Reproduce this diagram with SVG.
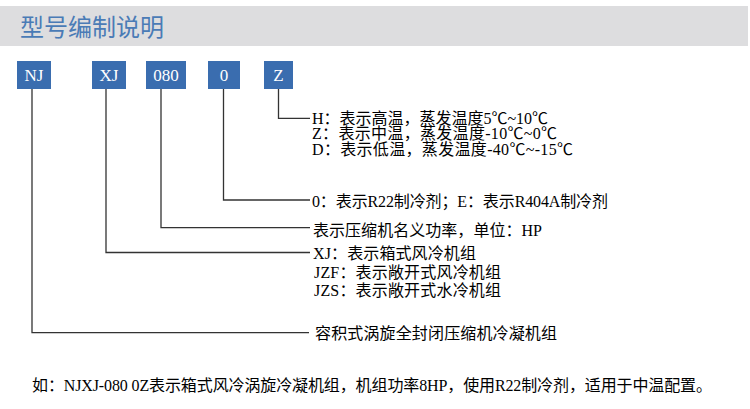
<svg xmlns="http://www.w3.org/2000/svg" width="750" height="409" viewBox="0 0 750 409">
<style>
.title{font-family:"Noto Sans CJK SC","Noto Sans",sans-serif;font-size:24px;fill:#4a7bb6;}
.box{fill:#3a6daf;}
.btxt{font-family:"Liberation Serif",serif;font-size:17px;fill:#ffffff;text-anchor:middle;}
.lbl{font-family:"Liberation Serif","Noto Sans CJK SC",serif;font-size:16px;fill:#000000;}
.conn{fill:none;stroke:#333333;stroke-width:1.3;}
</style>
<rect x="0" y="6" width="748" height="40" fill="#dddddf"/>
<text class="title" x="20" y="35.5">型号编制说明</text>
<g id="node-NJ"><rect class="box" x="17" y="61" width="34" height="28"/><text class="btxt" x="34" y="81">NJ</text></g>
<g id="node-XJ"><rect class="box" x="92" y="61" width="34" height="28"/><text class="btxt" x="109" y="81">XJ</text></g>
<g id="node-080"><rect class="box" x="146" y="61" width="40" height="28"/><text class="btxt" x="166" y="81">080</text></g>
<g id="node-0"><rect class="box" x="208" y="61" width="32" height="28"/><text class="btxt" x="224" y="81">0</text></g>
<g id="node-Z"><rect class="box" x="264" y="61" width="29" height="28"/><text class="btxt" x="278.5" y="81">Z</text></g>
<g id="connectors">
<path class="conn" d="M32,89 V332.7 H309"/>
<path class="conn" d="M106,89 V252.5 H310"/>
<path class="conn" d="M161,89 V227.7 H310"/>
<path class="conn" d="M223.5,89 V200 H310"/>
<path class="conn" d="M278.5,89 V118.3 H310"/>
</g>
<g id="label-Z">
<text class="lbl" x="312" y="123.5" textLength="236">H：表示高温，蒸发温度5℃~10℃</text>
<text class="lbl" x="312" y="139" textLength="245">Z：表示中温，蒸发温度-10℃~0℃</text>
<text class="lbl" x="312" y="154.5" textLength="261">D：表示低温，蒸发温度-40℃~-15℃</text>
</g>
<g id="label-0"><text class="lbl" x="312" y="207" textLength="296">0：表示R22制冷剂；E：表示R404A制冷剂</text></g>
<g id="label-080"><text class="lbl" x="313" y="236" textLength="229">表示压缩机名义功率，单位：HP</text></g>
<g id="label-XJ">
<text class="lbl" x="313" y="259" textLength="163">XJ：表示箱式风冷机组</text>
<text class="lbl" x="314" y="278" textLength="187">JZF：表示敞开式风冷机组</text>
<text class="lbl" x="314" y="296" textLength="187">JZS：表示敞开式水冷机组</text>
</g>
<g id="label-NJ"><text class="lbl" x="315" y="338.5" textLength="242">容积式涡旋全封闭压缩机冷凝机组</text></g>
<text class="lbl" x="32" y="391" textLength="680">如：NJXJ-080 0Z表示箱式风冷涡旋冷凝机组，机组功率8HP，使用R22制冷剂，适用于中温配置。</text>
</svg>
